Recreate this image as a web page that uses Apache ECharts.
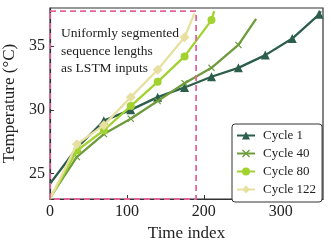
<!DOCTYPE html>
<html>
<head>
<meta charset="utf-8">
<script src="https://cdn.jsdelivr.net/npm/echarts@6/dist/echarts.min.js"></script>
<style>
html,body{margin:0;padding:0;background:#fff;}
#chart{width:332px;height:247px;}
</style>
</head>
<body>
<div id="chart"></div>
<script>
// ---- data ----
var seriesNames = ['Cycle 1', 'Cycle 40', 'Cycle 80', 'Cycle 122'];

var cycle1X = [0, 35, 70, 105, 140, 175, 210, 245, 280, 315, 350, 352];
var cycle1Y = [24.2, 27.0, 29.15, 30.0, 31.0, 31.76, 32.6, 33.3, 34.3, 35.6, 37.5, 37.75];

var cycle40X = [0, 35, 70, 105, 140, 175, 210, 245, 268];
var cycle40Y = [23.1, 26.3, 28.1, 29.3, 30.7, 32.1, 33.3, 35.1, 37.15];

var cycle80X = [0, 35, 70, 105, 140, 175, 210, 213.5];
var cycle80Y = [23.0, 26.8, 28.4, 30.3, 32.2, 34.2, 37.05, 37.75];

var cycle122X = [0, 35, 70, 105, 140, 175, 188];
var cycle122Y = [23.0, 27.3, 28.8, 31.0, 33.15, 35.7, 37.6];

// dashed box marking the uniformly segmented input window
var boxX = [0, 190, 190, 0, 0];
var boxY = [37.75, 37.75, 23, 23, 37.75];

var xTicks = [0, 100, 200, 300];
var yTicks = [25, 30, 35];

var annotationLines = ['Uniformly segmented', 'sequence lengths', 'as LSTM inputs'];

// ---- styles ----
var FONT = 'Liberation Serif';
var colors = ['#2d5e4c', '#6e9c3c', '#a2d22f', '#e8e0a0'];
var xMark = 'path://M0,1.2 L1.2,0 L5,3.8 L8.8,0 L10,1.2 L6.2,5 L10,8.8 L8.8,10 L5,6.2 L1.2,10 L0,8.8 L3.8,5 Z';
var symbols = ['triangle', xMark, 'circle', 'diamond'];
var symbolSizes = [9, 7, 8, 10];
var markerStep = 35;

var xsAll = [cycle1X, cycle40X, cycle80X, cycle122X];
var ysAll = [cycle1Y, cycle40Y, cycle80Y, cycle122Y];

function buildData(xs, ys, size) {
  return xs.map(function (x, i) {
    var isMarker = (x > 0 && x % markerStep === 0);
    return { value: [x, ys[i]], symbolSize: isMarker ? size : 0 };
  });
}

var series = seriesNames.map(function (name, k) {
  return {
    name: name,
    type: 'line',
    data: buildData(xsAll[k], ysAll[k], symbolSizes[k]),
    symbol: symbols[k],
    symbolSize: symbolSizes[k],
    showAllSymbol: true,
    lineStyle: { color: colors[k], width: 2.3 },
    itemStyle: { color: colors[k] },
    z: 3 + k,
    animation: false
  };
});

series.unshift({
  name: 'box',
  type: 'line',
  data: boxX.map(function (x, i) { return [x, boxY[i]]; }),
  symbol: 'none',
  lineStyle: { color: '#e2649a', width: 1.8, type: [6, 4] },
  clip: false,
  z: 10,
  silent: true,
  animation: false
});

var chart = echarts.init(document.getElementById('chart'), null, { renderer: 'canvas' });
chart.setOption({
  backgroundColor: '#fff',
  animation: false,
  grid: { left: 50, right: 9, top: 8, bottom: 48, containLabel: false, outerBoundsMode: 'none', show: true, borderColor: '#333', borderWidth: 1.2, backgroundColor: 'transparent' },
  xAxis: {
    type: 'value', min: 0, max: 355,
    name: 'Time index', nameLocation: 'middle', nameGap: 22,
    nameTextStyle: { fontFamily: FONT, fontSize: 17, color: '#222' },
    axisLine: { show: true, onZero: false, lineStyle: { color: '#333', width: 1.2 } },
    axisTick: { show: true, inside: true, length: 4, customValues: xTicks, lineStyle: { color: '#333' } },
    axisLabel: { customValues: xTicks, fontFamily: FONT, fontSize: 16, color: '#222', margin: 5 },
    splitLine: { show: false }
  },
  yAxis: {
    type: 'value', min: 23, max: 38,
    name: 'Temperature (°C)', nameLocation: 'middle', nameGap: 22,
    nameTextStyle: { fontFamily: FONT, fontSize: 17, color: '#222' },
    axisLine: { show: true, onZero: false, lineStyle: { color: '#333', width: 1.2 } },
    axisTick: { show: true, inside: true, length: 4, customValues: yTicks, lineStyle: { color: '#333' } },
    axisLabel: { customValues: yTicks, fontFamily: FONT, fontSize: 16, color: '#222', margin: 5 },
    splitLine: { show: false }
  },
  legend: {
    data: seriesNames,
    orient: 'vertical',
    left: 232, top: 124,
    padding: [5, 6, 6, 4],
    itemWidth: 18, itemHeight: 10, itemGap: 5,
    backgroundColor: '#fff',
    borderColor: '#333', borderWidth: 1, borderRadius: 3,
    textStyle: { fontFamily: FONT, fontSize: 13, color: '#222', padding: [0, 0, 0, 3] },
    z: 20
  },
  graphic: [{
    type: 'text',
    left: 61, top: 25,
    z: 30,
    style: {
      text: annotationLines.join('\n'),
      font: '13.5px "Liberation Serif"',
      fill: '#222',
      lineHeight: 17.5
    }
  }],
  series: series
});
</script>
</body>
</html>
